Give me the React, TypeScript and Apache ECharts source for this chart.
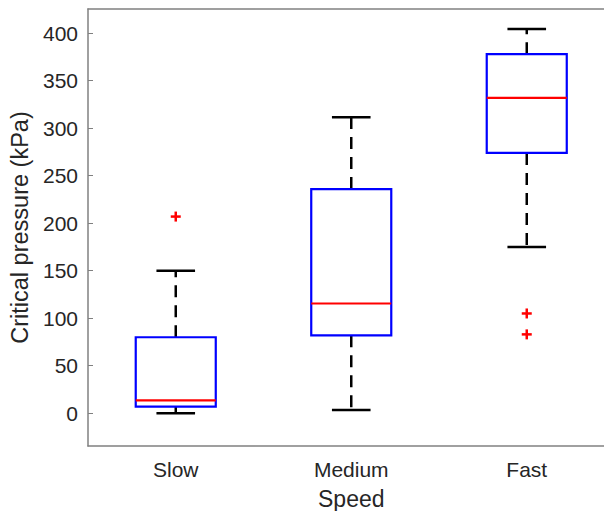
import React, { useEffect, useRef } from "react";
import * as echarts from "echarts";

const categories = ["Slow", "Medium", "Fast"];
const lowerWhisker = [0, 3.5, 175];
const q1 = [7, 82, 274];
const medians = [13.5, 115.5, 332];
const q3 = [80, 236, 378];
const upperWhisker = [150, 311.5, 404.5];
const outlierCategory = [0, 2, 2];
const outlierValue = [207, 105, 83];
const yTicks = [0, 50, 100, 150, 200, 250, 300, 350, 400];

const FONT = "'Liberation Sans', Arial, Helvetica, sans-serif";
const TEXT = "#262626";
const AXIS = "#808080";

export default function App() {
  const ref = useRef<HTMLDivElement>(null);
  useEffect(() => {
    document.body.style.margin = "0";
    document.body.style.overflow = "hidden";
    const chart = echarts.init(ref.current!, null, { renderer: "svg" });
    const boxData = categories.map((_, i) => [
      i,
      lowerWhisker[i],
      q1[i],
      medians[i],
      q3[i],
      upperWhisker[i],
    ]);
    const outData = outlierCategory.map((c, i) => [c, outlierValue[i]]);
    chart.setOption({
      animation: false,
      grid: { left: 88, top: 9, width: 526.5, height: 437, outerBoundsMode: "none", containLabel: false },
      xAxis: [
        {
          type: "category",
          data: categories,
          boundaryGap: true,
          position: "bottom",
          axisLine: { onZero: false, lineStyle: { color: AXIS, width: 1.5 } },
          axisTick: { inside: true, length: 5, alignWithLabel: true, lineStyle: { color: AXIS } },
          axisLabel: { color: TEXT, fontSize: 21, fontFamily: FONT, margin: 13 },
          name: "Speed",
          nameLocation: "middle",
          nameGap: 41,
          nameTextStyle: { color: TEXT, fontSize: 23, fontFamily: FONT },
          splitLine: { show: false },
        },
        {
          type: "category",
          data: categories,
          boundaryGap: true,
          position: "top",
          axisLine: { onZero: false, lineStyle: { color: AXIS, width: 1.5 } },
          axisTick: { inside: true, length: 5, alignWithLabel: true, lineStyle: { color: AXIS } },
          axisLabel: { show: false },
          splitLine: { show: false },
        },
      ],
      yAxis: {
        type: "value",
        min: -34.5,
        max: 425.5,
        axisLine: { show: true, onZero: false, lineStyle: { color: AXIS, width: 1.5 } },
        axisTick: {
          show: true,
          inside: true,
          length: 5,
          customValues: yTicks,
          lineStyle: { color: AXIS },
        },
        axisLabel: {
          color: TEXT,
          fontSize: 21,
          fontFamily: FONT,
          margin: 10,
          customValues: yTicks,
        },
        splitLine: { show: false },
        name: "Critical pressure (kPa)",
        nameLocation: "middle",
        nameGap: 47,
        nameRotate: 90,
        nameTextStyle: { color: TEXT, fontSize: 23.5, fontFamily: FONT },
      },
      series: [
        {
          type: "custom",
          xAxisIndex: 0,
          data: boxData,
          renderItem: (params: any, api: any) => {
            const idx = api.value(0);
            const band = api.size([1, 0])[0];
            const boxHalf = band * 0.228;
            const capHalf = band * 0.11;
            const pLo = api.coord([idx, api.value(1)]);
            const pQ1 = api.coord([idx, api.value(2)]);
            const pMed = api.coord([idx, api.value(3)]);
            const pQ3 = api.coord([idx, api.value(4)]);
            const pHi = api.coord([idx, api.value(5)]);
            const cx = pMed[0];
            const dash = { stroke: "#000", lineWidth: 2.5, lineDash: [12, 8], fill: "none" };
            const solid = { stroke: "#000", lineWidth: 2.5, fill: "none" };
            return {
              type: "group",
              children: [
                { type: "line", shape: { x1: cx, y1: pQ3[1], x2: cx, y2: pHi[1] }, style: dash },
                { type: "line", shape: { x1: cx, y1: pQ1[1], x2: cx, y2: pLo[1] }, style: dash },
                { type: "line", shape: { x1: cx - capHalf, y1: pHi[1], x2: cx + capHalf, y2: pHi[1] }, style: solid },
                { type: "line", shape: { x1: cx - capHalf, y1: pLo[1], x2: cx + capHalf, y2: pLo[1] }, style: solid },
                {
                  type: "rect",
                  shape: { x: cx - boxHalf, y: pQ3[1], width: boxHalf * 2, height: pQ1[1] - pQ3[1] },
                  style: { stroke: "#0000ff", lineWidth: 2.2, fill: "none" },
                },
                {
                  type: "line",
                  shape: { x1: cx - boxHalf, y1: pMed[1], x2: cx + boxHalf, y2: pMed[1] },
                  style: { stroke: "#ff0000", lineWidth: 2.2, fill: "none" },
                },
              ],
            };
          },
        },
        {
          type: "custom",
          xAxisIndex: 0,
          data: outData,
          renderItem: (params: any, api: any) => {
            const p = api.coord([api.value(0), api.value(1)]);
            const s = 5;
            const st = { stroke: "#ff0000", lineWidth: 2.5, fill: "none" };
            return {
              type: "group",
              children: [
                { type: "line", shape: { x1: p[0] - s, y1: p[1], x2: p[0] + s, y2: p[1] }, style: st },
                { type: "line", shape: { x1: p[0], y1: p[1] - s, x2: p[0], y2: p[1] + s }, style: st },
              ],
            };
          },
        },
      ],
    });
    return () => chart.dispose();
  }, []);
  return <div ref={ref} style={{ width: 604, height: 511, overflow: "hidden" }} />;
}
